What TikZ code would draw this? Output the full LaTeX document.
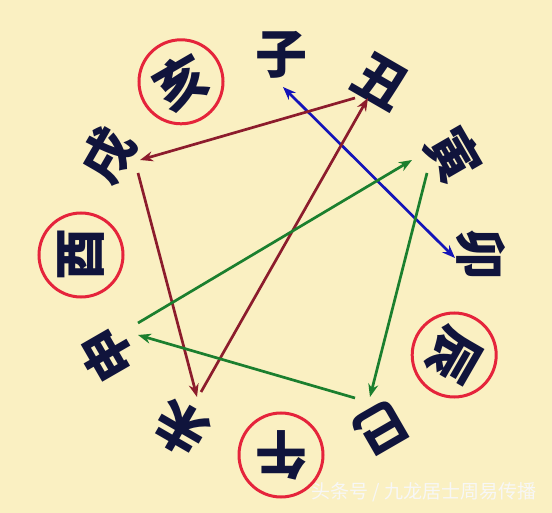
\documentclass[tikz,border=0pt]{standalone}
\usepackage{fontspec}
\newfontfamily\cjk{Noto Sans CJK SC}
\usetikzlibrary{arrows.meta}
\definecolor{bg}{HTML}{FAF0C2}
\definecolor{ink}{HTML}{10143C}
\definecolor{ringred}{HTML}{E5243B}
\definecolor{maroonline}{HTML}{8C1C2C}
\definecolor{grnline}{HTML}{1B7F2E}
\definecolor{bluline}{HTML}{1414B8}
\begin{document}
\begin{tikzpicture}[x=1pt,y=-1pt,
  branch/.style={font=\cjk\bfseries\fontsize{52}{52}\selectfont, text=ink, inner sep=0pt},
  ring/.style={draw=ringred, line width=3pt, circle, minimum size=84pt, inner sep=0pt},
  link/.style={line width=2.7pt, -{Stealth[length=13pt,width=10pt]}},
  wmtext/.style={font=\cjk\fontsize{19}{19}\selectfont, text=white!94!gray}]
\fill[bg] (0,0) rectangle (552,513);
\useasboundingbox (0,0) rectangle (552,513);
\foreach \n/\t/\a in {zi/子/0, chou/丑/30, yin/寅/60, mao/卯/90, chen/辰/120, si/巳/150, wu/午/180, wei/未/210, shen/申/240, you/酉/270, xu/戌/300, hai/亥/330}
  \node[branch, rotate=-\a] (\n) at ({281+200*sin(\a)},{255-200*cos(\a)}) {\t};
\foreach \n in {hai, you, chen, wu}
  \node[ring] (\n-ring) at (\n) {};
% endpoints
\coordinate (zi-a) at (283,87);   \coordinate (mao-a) at (455,258);
\coordinate (chou-s) at (355,98); \coordinate (xu-e) at (140,160);
\coordinate (xu-s) at (138,173);  \coordinate (wei-e) at (197,397);
\coordinate (wei-s) at (201,392); \coordinate (chou-e) at (368,98);
\coordinate (yin-s) at (427,173); \coordinate (si-e) at (370,397);
\coordinate (si-s) at (355,398);  \coordinate (shen-e) at (138,335);
\coordinate (shen-s) at (138,323);\coordinate (yin-e) at (412,160);
\draw[link, bluline, {Stealth[length=13pt,width=10pt]}-{Stealth[length=13pt,width=10pt]}] (zi-a) -- (mao-a);
\draw[link, maroonline] (chou-s) -- (xu-e);
\draw[link, maroonline] (xu-s) -- (wei-e);
\draw[link, maroonline] (wei-s) -- (chou-e);
\draw[link, grnline] (yin-s) -- (si-e);
\draw[link, grnline] (si-s) -- (shen-e);
\draw[link, grnline] (shen-s) -- (yin-e);
\node[wmtext, anchor=west] (wm) at (308,492) {头条号 / 九龙居士周易传播};
\end{tikzpicture}
\end{document}
